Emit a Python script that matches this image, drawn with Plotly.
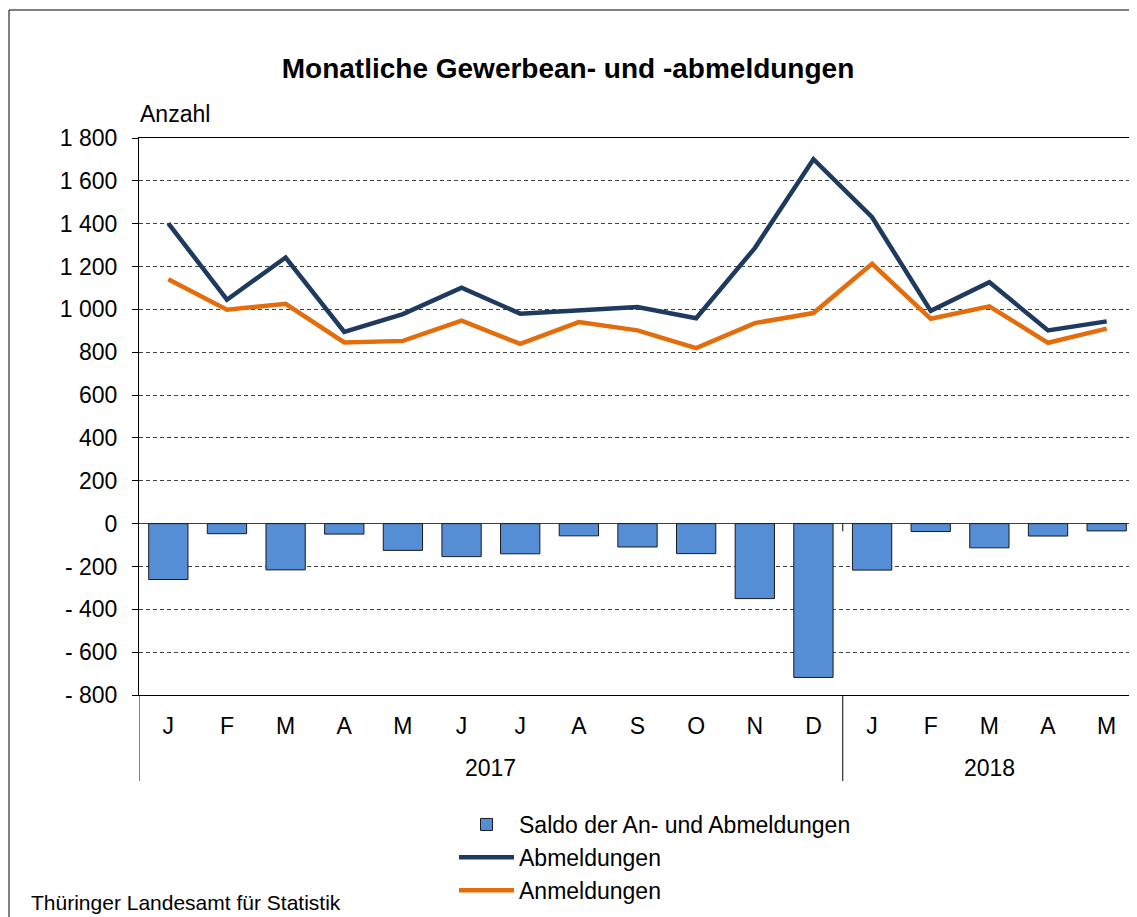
import plotly.graph_objects as go

# ---- data ----
months = ["J", "F", "M", "A", "M", "J", "J", "A", "S", "O", "N", "D",
          "J", "F", "M", "A", "M"]
years = ["2017", "2018"]
year_month_counts = [12, 5]

abmeldungen = [1402, 1045, 1242, 895, 978, 1101, 980, 998, 1011, 959, 1286, 1701,
               1430, 993, 1127, 902, 944]
anmeldungen = [1141, 998, 1026, 846, 853, 947, 839, 941, 902, 819, 936, 983,
               1213, 956, 1014, 844, 910]
saldo = [-261, -47, -216, -49, -125, -154, -141, -57, -109, -140, -350, -718,
         -217, -37, -113, -58, -34]

y_tickvals = [1800, 1600, 1400, 1200, 1000, 800, 600, 400, 200, 0,
              -200, -400, -600, -800]
y_ticktext = ["1 800", "1 600", "1 400", "1 200", "1 000", "800", "600", "400",
              "200", "0", "- 200", "- 400", "- 600", "- 800"]

title_text = "Monatliche Gewerbean- und -abmeldungen"
y_title = "Anzahl"
source_text = "Thüringer Landesamt für Statistik"

FONT = "Liberation Sans, Arial, sans-serif"
x = list(range(len(months)))

fig = go.Figure()
fig.add_trace(go.Bar(
    x=x, y=saldo, name="Saldo der An- und Abmeldungen",
    marker=dict(color="#558ED5", line=dict(color="#1a1a1a", width=1)),
    width=0.67,
))
fig.add_trace(go.Scatter(
    x=x, y=abmeldungen, name="Abmeldungen", mode="lines",
    line=dict(color="#1F3A5F", width=4.5),
))
fig.add_trace(go.Scatter(
    x=x, y=anmeldungen, name="Anmeldungen", mode="lines",
    line=dict(color="#E46C0A", width=4.5),
))

# the page body adds an 8px margin; the figure is sized so it fills the window
OFF = 8
W, H = 1137 - OFF, 917 - OFF
# plot area in screen coords: x 139..1136, y 138..695
L = 139 - OFF
R = W - (1136 - OFF)
T = 138 - OFF
B = H - (695 - OFF)
plot_h = H - T - B
plot_w = W - L - R


def py(screen_y):
    return (H - B - (screen_y - OFF)) / plot_h


def px(screen_x):
    return ((screen_x - OFF) - L) / plot_w


shapes = []
# outer frame
shapes.append(dict(type="rect", xref="paper", yref="paper",
                   x0=px(9), x1=px(1150), y0=py(940), y1=py(10),
                   line=dict(color="#000000", width=1), fillcolor="rgba(0,0,0,0)",
                   layer="below"))
# group separators below category axis
start = 0
sep_positions = [-0.5]
for c in year_month_counts:
    start += c
    sep_positions.append(start - 0.5)
for sx in sep_positions:
    shapes.append(dict(type="line", xref="x", yref="paper", x0=sx, x1=sx,
                       y0=0, y1=py(781), line=dict(color="#000000", width=1)))
# small tick on the zero line between years
shapes.append(dict(type="line", xref="x", yref="y", x0=sep_positions[1], x1=sep_positions[1],
                   y0=0, y1=-36, line=dict(color="#000000", width=1)))

annotations = []
# year labels
start = 0
for yr, c in zip(years, year_month_counts):
    center = start + (c - 1) / 2
    annotations.append(dict(text=yr, xref="x", yref="paper", x=center, y=py(768),
                            xanchor="center", yanchor="middle", showarrow=False,
                            font=dict(family=FONT, size=23, color="#000000")))
    start += c
annotations.append(dict(text=y_title, xref="paper", yref="paper", x=px(138), y=py(114),
                        xanchor="left", yanchor="middle", showarrow=False,
                        font=dict(family=FONT, size=23, color="#000000")))
annotations.append(dict(text=source_text, xref="paper", yref="paper", x=px(29), y=py(903),
                        xanchor="left", yanchor="middle", showarrow=False,
                        font=dict(family=FONT, size=21, color="#000000")))

fig.update_layout(
    width=W, height=H,
    margin=dict(l=L, r=R, t=T, b=B, autoexpand=False),
    paper_bgcolor="white", plot_bgcolor="white",
    title=dict(text="<b>" + title_text + "</b>", x=(568 - OFF) / W, xanchor="center",
               y=1 - (68 - OFF) / H, yanchor="middle", yref="container",
               font=dict(family=FONT, size=28, color="#000000")),
    font=dict(family=FONT, size=23, color="#000000"),
    showlegend=True,
    legend=dict(orientation="v", x=px(454), y=py(803), xanchor="left", yanchor="top",
                itemwidth=55, bgcolor="rgba(0,0,0,0)",
                font=dict(family=FONT, size=23, color="#000000"),
                traceorder="normal"),
    shapes=shapes,
    annotations=annotations,
)

fig.update_xaxes(
    range=[-0.5, len(months) - 0.5],
    tickmode="array", tickvals=x, ticktext=months,
    ticks="", showgrid=False, zeroline=False,
    showline=True, linecolor="#000000", linewidth=1, mirror=True,
    tickfont=dict(family=FONT, size=23, color="#000000"),
    ticklabelstandoff=10,
)
fig.update_yaxes(
    range=[-800, 1800],
    tickmode="array", tickvals=y_tickvals, ticktext=y_ticktext,
    ticks="outside", ticklen=6, tickcolor="#000000",
    showgrid=True, gridcolor="#404040", gridwidth=1, griddash="4px,3px",
    zeroline=True, zerolinecolor="#404040", zerolinewidth=1,
    showline=True, linecolor="#000000", linewidth=1, mirror=True,
    tickfont=dict(family=FONT, size=23, color="#000000"),
    ticklabelstandoff=10,
)

fig.write_html("out.html")
